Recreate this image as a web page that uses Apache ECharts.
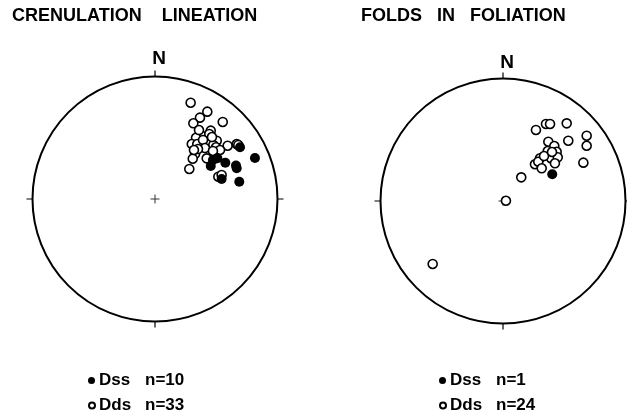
<!DOCTYPE html>
<html>
<head>
<meta charset="utf-8">
<script src="https://cdn.jsdelivr.net/npm/echarts@6/dist/echarts.min.js"></script>
<style>
html,body{margin:0;padding:0;background:#fff;}
#c{width:627px;height:418px;}
</style>
</head>
<body>
<div id="c"></div>
<script>
// Positions as percent of the net radius: east (+) / north (+)
const crenDdsEast  = [29.1,42.7,36.7,31.3,55.3,45.5,38.1,44.3,33.5,30.0,34.5,43.5,50.4,47.6,49.8,59.3,66.7,32.7,30.8,42.2,49.0,28.0,51.7,54.4,39.2,35.9,46.5,40.8,53.1,35.1,47.3,31.8,68.0];
const crenDdsNorth = [78.6,71.3,66.4,61.8,62.9,55.8,51.7,53.1,50.0,44.9,44.9,46.8,47.6,44.1,42.2,43.5,44.9,36.7,32.9,33.2,37.3,24.5,18.2,19.6,48.2,56.3,50.6,41.6,40.0,40.8,39.2,40.0,44.1];
const crenDssEast  = [69.4,81.6,50.9,57.4,45.5,66.7,54.4,68.8,47.3,66.1];
const crenDssNorth = [42.2,33.5,33.2,29.6,26.9,25.1,16.3,14.1,31.8,27.3];

const foldDdsEast  = [26.9,35.1,38.4,52.0,68.3,68.3,53.3,37.0,41.9,36.5,43.8,39.2,44.7,30.2,26.1,28.8,31.6,42.4,65.6,14.9,2.4,-57.4,33.5,40.0];
const foldDdsNorth = [58.0,62.9,62.9,63.4,53.3,45.1,49.2,48.4,44.9,40.8,40.2,34.9,35.7,34.9,30.0,32.1,26.7,30.8,31.3,19.3,0.2,-51.4,36.7,40.0];
const foldDssEast  = [40.2];
const foldDssNorth = [21.8];

const titles = ['CRENULATION    LINEATION', 'FOLDS   IN   FOLIATION'];
const legendNames = [['Dss n=10','Dds n=33'],['Dss n=1','Dds n=24']];

function toPolar(east, north){
  return east.map((e,i)=>{
    const n = north[i];
    const r = Math.sqrt(e*e+n*n);
    const a = (Math.atan2(e,n)*180/Math.PI + 360) % 360;
    return [r, a];
  });
}

const FONT = '"Liberation Sans", Arial, sans-serif';
const crossPath = 'path://M4,0h1v9h-1z M0,4h9v1h-9z';

function angleAx(i){
  return {
    polarIndex:i, type:'value', min:0, max:360, interval:90, startAngle:90, clockwise:true,
    axisLine:{show:true, lineStyle:{color:'#000', width:2}},
    axisTick:{show:true, length:6, lineStyle:{color:'#000', width:1.2}},
    axisLabel:{show:false}, splitLine:{show:false}, splitArea:{show:false}
  };
}
function radiusAx(i){
  return {polarIndex:i, type:'value', min:0, max:100, show:false,
    axisLine:{show:false}, axisTick:{show:false}, axisLabel:{show:false}, splitLine:{show:false}};
}
const openStyle = {color:'#fff', borderColor:'#000', borderWidth:1.6, opacity:1};
const fillStyle = {color:'#000', borderColor:'#000', borderWidth:0, opacity:1};

function legendItem(name, left, top, size){
  return {
    left:left, top:top, itemWidth:size, itemHeight:size, itemGap:0, padding:0,
    selectedMode:false,
    data:[{name:name, icon:'circle'}],
    formatter:function(n){ const p=n.split(' '); return '{a|'+p[0]+'}{b|'+p[1]+'}'; },
    textStyle:{color:'#000', fontFamily:FONT, fontWeight:'bold', fontSize:17,
      rich:{a:{width:46, fontFamily:FONT, fontWeight:'bold', fontSize:17, color:'#000', padding:[0,0,0,-1]},
            b:{fontFamily:FONT, fontWeight:'bold', fontSize:17, color:'#000'}}}
  };
}

const chart = echarts.init(document.getElementById('c'), null, {renderer:'canvas'});
chart.setOption({
  backgroundColor:'#fff',
  animation:false,
  title:[
    {text:titles[0], left:7, top:2, textStyle:{fontFamily:FONT, fontWeight:'bold', fontSize:18, color:'#000'}},
    {text:titles[1], left:356, top:2, textStyle:{fontFamily:FONT, fontWeight:'bold', fontSize:18, color:'#000'}},
    {text:'N', left:154, top:44, textAlign:'center', textStyle:{fontFamily:FONT, fontWeight:'bold', fontSize:19, color:'#000'}},
    {text:'N', left:502, top:48, textAlign:'center', textStyle:{fontFamily:FONT, fontWeight:'bold', fontSize:19, color:'#000'}}
  ],
  legend:[
    legendItem(legendNames[0][0], 88, 372, 7),
    legendItem(legendNames[0][1], 88, 397, 6),
    legendItem(legendNames[1][0], 439, 372, 7),
    legendItem(legendNames[1][1], 439, 397, 6)
  ],
  polar:[{center:[155,199], radius:122.5},{center:[503,201], radius:122.5}],
  angleAxis:[angleAx(0), angleAx(1)],
  radiusAxis:[radiusAx(0), radiusAx(1)],
  series:[
    {type:'scatter', coordinateSystem:'polar', polarIndex:0, silent:true, symbol:crossPath, symbolSize:9,
     itemStyle:{color:'#000'}, data:[[0,0]], z:1},
    {type:'scatter', coordinateSystem:'polar', polarIndex:1, silent:true, symbol:crossPath, symbolSize:9,
     itemStyle:{color:'#000'}, data:[[0,0]], z:1},
    {name:legendNames[0][1], type:'scatter', coordinateSystem:'polar', polarIndex:0, symbol:'circle', symbolSize:9,
     itemStyle:openStyle, data:toPolar(crenDdsEast, crenDdsNorth), z:2},
    {name:legendNames[0][0], type:'scatter', coordinateSystem:'polar', polarIndex:0, symbol:'circle', symbolSize:10,
     itemStyle:fillStyle, data:toPolar(crenDssEast, crenDssNorth), z:3},
    {name:legendNames[1][1], type:'scatter', coordinateSystem:'polar', polarIndex:1, symbol:'circle', symbolSize:9,
     itemStyle:openStyle, data:toPolar(foldDdsEast, foldDdsNorth), z:2},
    {name:legendNames[1][0], type:'scatter', coordinateSystem:'polar', polarIndex:1, symbol:'circle', symbolSize:10,
     itemStyle:fillStyle, data:toPolar(foldDssEast, foldDssNorth), z:3}
  ]
});
</script>
</body>
</html>
